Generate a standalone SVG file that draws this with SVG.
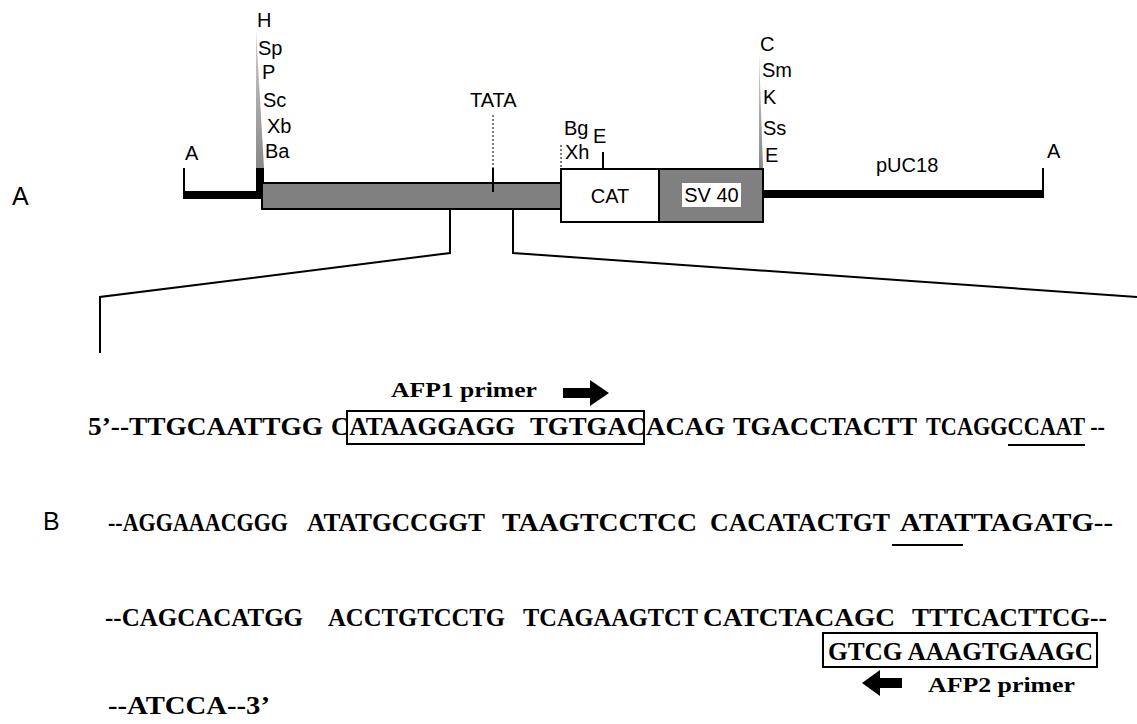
<svg xmlns="http://www.w3.org/2000/svg" width="1137" height="724" viewBox="0 0 1137 724">
<style>
.lab{font-family:"Liberation Sans",Arial,sans-serif;font-size:20px;fill:#000}
.big{font-family:"Liberation Sans",Arial,sans-serif;font-size:25px;fill:#000}
.seq{font-family:"Liberation Serif","Times New Roman",serif;font-size:26px;font-weight:bold;fill:#000}
.pr{font-family:"Liberation Serif","Times New Roman",serif;font-size:22px;font-weight:bold;fill:#000}
.ln{stroke:#000;stroke-width:2;fill:none}
.thick{stroke:#000;stroke-width:8;fill:none}
.dot{stroke:#000;stroke-width:1;stroke-dasharray:2,2;fill:none}
.gray{fill:#808080;stroke:#000;stroke-width:2}
</style>
<defs>
<linearGradient id="wg" x1="0" y1="0" x2="0" y2="1">
<stop offset="0" stop-color="#d0d0d0"/>
<stop offset="1" stop-color="#888"/>
</linearGradient>
</defs>
<rect width="1137" height="724" fill="#fff"/>
<text class="big" x="12" y="205">A</text>
<text class="big" x="43" y="530">B</text>

<g id="left-arm">
<text class="lab" x="185" y="160">A</text>
<line class="ln" x1="184" y1="168" x2="184" y2="198"/>
<line class="thick" x1="183" y1="195" x2="262" y2="195"/>
<rect x="256" y="168" width="8" height="31" fill="#000"/>
<polygon fill="url(#wg)" points="256,30 264,168 256,168"/>
<text class="lab" x="257" y="27">H</text>
<text class="lab" x="258" y="55">Sp</text>
<text class="lab" x="262" y="79">P</text>
<text class="lab" x="263" y="107">Sc</text>
<text class="lab" x="267" y="133">Xb</text>
<text class="lab" x="265" y="158">Ba</text>
</g>

<g id="promoter">
<rect class="gray" x="262" y="183" width="299" height="26"/>
<text class="lab" x="470" y="107">TATA</text>
<line class="dot" x1="493" y1="115" x2="493" y2="168"/>
<line class="ln" x1="493" y1="168" x2="493" y2="192"/>
</g>

<g id="cat">
<text class="lab" x="564" y="135">Bg</text>
<text class="lab" x="565" y="159">Xh</text>
<text class="lab" x="593" y="143">E</text>
<line class="dot" x1="561" y1="145" x2="561" y2="168"/>
<line class="ln" x1="603" y1="152" x2="603" y2="170"/>
<rect x="561" y="169" width="98" height="53" fill="#fff" stroke="#000" stroke-width="2"/>
<text class="lab" x="610" y="203" text-anchor="middle">CAT</text>
</g>

<g id="sv40">
<rect class="gray" x="659" y="169" width="104" height="53"/>
<rect x="682" y="183" width="59" height="24" fill="#fff"/>
<text class="lab" x="711.5" y="202" text-anchor="middle">SV 40</text>
</g>

<g id="right-arm">
<polygon fill="url(#wg)" points="759,53 763,168 759,168"/>
<text class="lab" x="760" y="51">C</text>
<text class="lab" x="762" y="77">Sm</text>
<text class="lab" x="763" y="104">K</text>
<text class="lab" x="763" y="135">Ss</text>
<text class="lab" x="765" y="162">E</text>
<line class="thick" x1="763" y1="194" x2="1044" y2="194"/>
<line class="ln" x1="1043" y1="168" x2="1043" y2="198"/>
<text class="lab" x="1047" y="158">A</text>
<text class="lab" x="876" y="172">pUC18</text>
</g>

<g id="connectors">
<polyline class="ln" points="450,209 450,253 100,297 100,353"/>
<polyline class="ln" points="513,209 513,253 1137,297"/>
</g>

<g id="seq-line1">
<text class="pr" x="391" y="397" textLength="146" lengthAdjust="spacingAndGlyphs">AFP1 primer</text>
<polygon points="563,388 590,388 590,380 609,393 590,406 590,398 563,398" fill="#000"/>
<text class="seq" x="88" y="435" textLength="235" lengthAdjust="spacingAndGlyphs">5’--TTGCAATTGG</text>
<text class="seq" x="331" y="435" textLength="184" lengthAdjust="spacingAndGlyphs">CATAAGGAGG</text>
<text class="seq" x="530" y="435" textLength="195" lengthAdjust="spacingAndGlyphs">TGTGACACAG</text>
<text class="seq" x="733" y="435" textLength="184" lengthAdjust="spacingAndGlyphs">TGACCTACTT</text>
<text class="seq" x="926" y="435" textLength="179" lengthAdjust="spacingAndGlyphs">TCAGGCCAAT --</text>
<rect x="347" y="411" width="297" height="33" fill="none" stroke="#000" stroke-width="2"/>
<line class="ln" x1="1008" y1="445" x2="1085" y2="445"/>
</g>

<g id="seq-line2">
<text class="seq" x="108" y="531" textLength="180" lengthAdjust="spacingAndGlyphs">--AGGAAACGGG</text>
<text class="seq" x="307" y="531" textLength="178" lengthAdjust="spacingAndGlyphs">ATATGCCGGT</text>
<text class="seq" x="502" y="531" textLength="195" lengthAdjust="spacingAndGlyphs">TAAGTCCTCC</text>
<text class="seq" x="710" y="531" textLength="180" lengthAdjust="spacingAndGlyphs">CACATACTGT</text>
<text class="seq" x="900" y="531" textLength="213" lengthAdjust="spacingAndGlyphs">ATATTAGATG--</text>
<line class="ln" x1="892" y1="545" x2="963" y2="545"/>
</g>

<g id="seq-line3">
<text class="seq" x="105" y="626" textLength="198" lengthAdjust="spacingAndGlyphs">--CAGCACATGG</text>
<text class="seq" x="328" y="626" textLength="177" lengthAdjust="spacingAndGlyphs">ACCTGTCCTG</text>
<text class="seq" x="523" y="626" textLength="175" lengthAdjust="spacingAndGlyphs">TCAGAAGTCT</text>
<text class="seq" x="703" y="626" textLength="192" lengthAdjust="spacingAndGlyphs">CATCTACAGC</text>
<text class="seq" x="912" y="626" textLength="195" lengthAdjust="spacingAndGlyphs">TTTCACTTCG--</text>
<rect x="823" y="633" width="274" height="34" fill="none" stroke="#000" stroke-width="2"/>
<text class="seq" x="828" y="660" textLength="265" lengthAdjust="spacingAndGlyphs">GTCG AAAGTGAAGC</text>
<polygon points="862,683 880,670 880,678 902,678 902,688 880,688 880,696" fill="#000"/>
<text class="pr" x="928" y="692" textLength="147" lengthAdjust="spacingAndGlyphs">AFP2 primer</text>
</g>

<g id="seq-line4">
<text class="seq" x="108" y="714" textLength="162" lengthAdjust="spacingAndGlyphs">--ATCCA--3’</text>
</g>
</svg>
